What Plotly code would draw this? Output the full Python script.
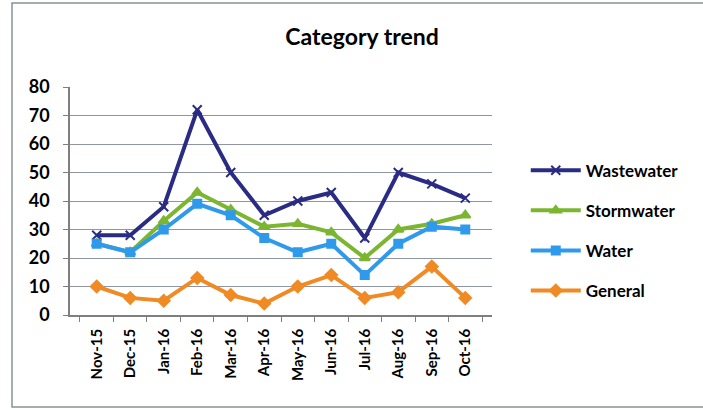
import plotly.graph_objects as go

months = ["Nov-15", "Dec-15", "Jan-16", "Feb-16", "Mar-16", "Apr-16",
          "May-16", "Jun-16", "Jul-16", "Aug-16", "Sep-16", "Oct-16"]
wastewater = [28, 28, 38, 72, 50, 35, 40, 43, 27, 50, 46, 41]
stormwater = [25, 22, 33, 43, 37, 31, 32, 29, 20, 30, 32, 35]
water = [25, 22, 30, 39, 35, 27, 22, 25, 14, 25, 31, 30]
general = [10, 6, 5, 13, 7, 4, 10, 14, 6, 8, 17, 6]
y_ticks = [0, 10, 20, 30, 40, 50, 60, 70, 80]

series = [
    ("Wastewater", wastewater, "#2A2C84", "x-thin-open", 9),
    ("Stormwater", stormwater, "#7CB631", "triangle-up", 9),
    ("Water", water, "#2F9AEB", "square", 8),
    ("General", general, "#F08A24", "diamond", 9),
]

FONT = "Lato, Open Sans, sans-serif"

fig = go.Figure()
for name, vals, color, sym, size in series:
    fig.add_trace(go.Scatter(
        x=months, y=vals, name=name, mode="lines+markers", legendgroup=name,
        line=dict(color=color, width=4),
        marker=dict(symbol=sym, size=size, color=color,
                    line=dict(color=color, width=2)),
    ))

fig.update_layout(
    width=703, height=410,
    margin=dict(l=70, r=211, t=87, b=95),
    paper_bgcolor="white", plot_bgcolor="white",
    title=dict(text="<b>Category trend</b>", x=0.515, xanchor="center",
               y=0.91, yanchor="middle",
               font=dict(family=FONT, size=23, color="black")),
    font=dict(family=FONT, color="black"),
    legend=dict(x=1.08, xanchor="left", y=0.37, yanchor="middle",
                font=dict(family=FONT, size=17, color="black", weight="bold"),
                tracegroupgap=15, itemwidth=50,
                bgcolor="rgba(0,0,0,0)"),
    showlegend=True,
)

fig.update_xaxes(type="category", showgrid=False, showline=True,
                 linecolor="#7f7f7f", linewidth=1.5,
                 ticks="outside", tickson="boundaries", ticklen=5,
                 tickcolor="#7f7f7f", tickangle=-90,
                 tickfont=dict(size=15, family=FONT, color="black"),
                 ticklabelstandoff=6,
                 tickmode="array", tickvals=months,
                 ticktext=["<b>%s</b>" % m for m in months])
fig.update_yaxes(range=[0, 80], showgrid=True, gridcolor="#8f95a3",
                 gridwidth=1.3, showline=True, linecolor="#7f7f7f", linewidth=1.5,
                 ticks="outside", ticklen=5, tickcolor="#7f7f7f",
                 tickfont=dict(size=18, family=FONT, color="black"),
                 zeroline=False, ticklabelstandoff=10,
                 tickmode="array", tickvals=y_ticks,
                 ticktext=["<b>%d</b>" % v for v in y_ticks])

fig.add_shape(type="rect", xref="paper", yref="paper",
              x0=(12 - 70) / 422, x1=(706 - 70) / 422,
              y0=(315 - 407) / 228, y1=(315 - 3) / 228,
              line=dict(color="#8c909c", width=1.5), layer="below")

fig.write_html("out.html", config={"displayModeBar": False},
               post_script="document.body.style.margin='0px';document.body.style.overflow='hidden';")
